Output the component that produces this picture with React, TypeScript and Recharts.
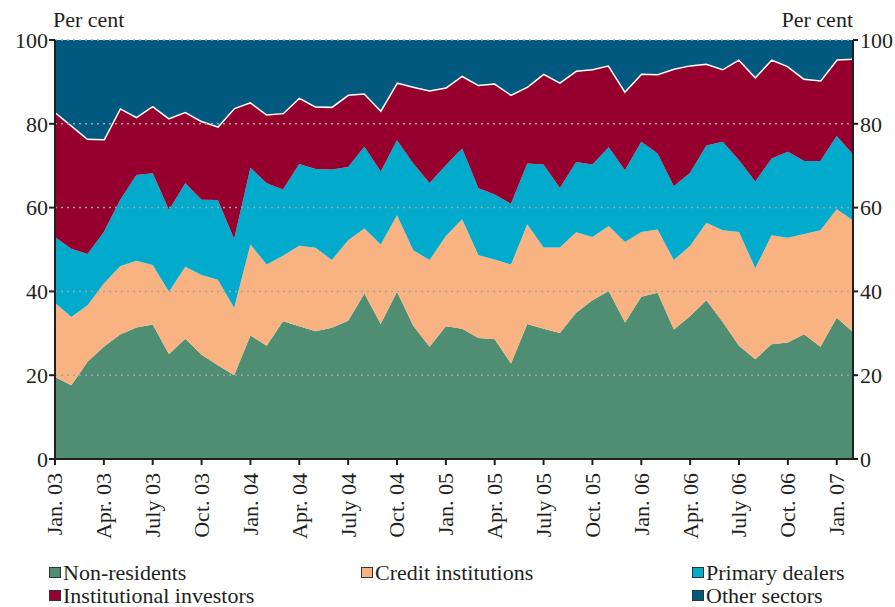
import { ComposedChart, Area, Line, XAxis, YAxis, ReferenceLine } from 'recharts'

const months = [
  'Jan. 03', 'Feb. 03', 'Mar. 03', 'Apr. 03', 'May 03', 'June 03', 'July 03', 'Aug. 03', 'Sep. 03', 'Oct. 03', 'Nov. 03', 'Dec. 03',
  'Jan. 04', 'Feb. 04', 'Mar. 04', 'Apr. 04', 'May 04', 'June 04', 'July 04', 'Aug. 04', 'Sep. 04', 'Oct. 04', 'Nov. 04', 'Dec. 04',
  'Jan. 05', 'Feb. 05', 'Mar. 05', 'Apr. 05', 'May 05', 'June 05', 'July 05', 'Aug. 05', 'Sep. 05', 'Oct. 05', 'Nov. 05', 'Dec. 05',
  'Jan. 06', 'Feb. 06', 'Mar. 06', 'Apr. 06', 'May 06', 'June 06', 'July 06', 'Aug. 06', 'Sep. 06', 'Oct. 06', 'Nov. 06', 'Dec. 06',
  'Jan. 07', 'Feb. 07',
]

// shares, per cent
const nonResidents = [
  19.6, 17.6, 23.2, 26.8, 29.7, 31.4, 32.1, 25.0, 28.7, 24.9,
  22.4, 20.0, 29.5, 27.0, 32.9, 31.7, 30.5, 31.3, 33.0, 39.5,
  32.2, 39.9, 31.8, 26.8, 31.7, 31.1, 28.9, 28.6, 22.8, 32.2,
  31.1, 30.1, 34.9, 37.9, 40.1, 32.6, 38.7, 39.7, 30.9, 34.1,
  37.9, 32.7, 27.0, 23.8, 27.4, 27.8, 29.8, 26.8, 33.7, 30.3,
]
const creditInstitutions = [
  17.7, 16.3, 13.5, 15.1, 16.3, 15.9, 14.2, 14.9, 17.2, 19.0,
  20.4, 16.1, 21.7, 19.4, 15.6, 19.2, 19.9, 16.2, 19.2, 15.5,
  19.0, 18.3, 18.0, 20.7, 21.5, 26.1, 19.7, 19.0, 23.6, 23.8,
  19.4, 20.4, 19.2, 15.1, 15.5, 19.2, 15.5, 15.1, 16.6, 16.8,
  18.5, 21.9, 27.2, 21.7, 26.0, 25.0, 23.9, 27.8, 25.9, 26.7,
]
const primaryDealers = [
  15.7, 16.3, 12.2, 12.3, 15.8, 20.5, 21.9, 19.5, 19.9, 18.0,
  19.0, 16.4, 18.3, 19.4, 15.8, 19.5, 18.8, 21.6, 17.5, 19.5,
  17.4, 17.9, 20.7, 18.4, 16.9, 16.9, 16.0, 15.5, 14.5, 14.5,
  19.8, 14.2, 16.8, 17.3, 18.8, 17.1, 21.5, 18.1, 17.6, 17.4,
  18.4, 21.1, 17.1, 20.7, 18.3, 20.5, 17.4, 16.5, 17.5, 15.7,
]
const institutionalInvestors = [
  29.9, 29.5, 27.6, 22.2, 22.0, 13.9, 16.1, 22.0, 17.1, 18.8,
  17.6, 31.3, 15.7, 16.5, 18.3, 15.9, 15.0, 15.0, 17.3, 12.8,
  14.7, 13.8, 18.4, 22.1, 18.6, 17.4, 24.7, 26.6, 26.1, 18.4,
  21.7, 25.2, 21.8, 22.8, 19.6, 18.9, 16.3, 19.0, 28.1, 25.7,
  19.6, 17.4, 24.1, 25.0, 23.7, 20.5, 19.7, 19.3, 18.3, 22.9,
]
const otherSectors = [
  17.1, 20.3, 23.5, 23.6, 16.2, 18.3, 15.7, 18.6, 17.1, 19.3,
  20.6, 16.2, 14.8, 17.7, 17.4, 13.7, 15.8, 15.9, 13.0, 12.7,
  16.7, 10.1, 11.1, 12.0, 11.3, 8.5, 10.7, 10.3, 13.0, 11.1,
  8.0, 10.1, 7.3, 6.9, 6.0, 12.2, 8.0, 8.1, 6.8, 6.0,
  5.6, 6.9, 4.6, 8.8, 4.6, 6.2, 9.2, 9.6, 4.6, 4.4,
]

const yTicks = [0, 20, 40, 60, 80, 100]

const series = [
  { key: 'nonRes', name: 'Non-residents', color: '#4f8e73' },
  { key: 'credit', name: 'Credit institutions', color: '#f9b382' },
  { key: 'primary', name: 'Primary dealers', color: '#02aacb' },
  { key: 'inst', name: 'Institutional investors', color: '#95002f' },
  { key: 'other', name: 'Other sectors', color: '#02597f' },
]

const data = months.map((m, i) => ({
  month: m,
  nonRes: nonResidents[i],
  credit: creditInstitutions[i],
  primary: primaryDealers[i],
  inst: institutionalInvestors[i],
  other: otherSectors[i],
}))

const FONT = "'Liberation Serif', 'Times New Roman', serif"
const INK = '#231f20'

function MonthTick({ x, y, payload }: any) {
  return (
    <text
      x={x}
      y={y}
      transform={`rotate(-90, ${x}, ${y})`}
      textAnchor="end"
      dy="0.34em"
      fontSize={22}
      fontFamily={FONT}
      fill={INK}
    >
      {payload.value}
    </text>
  )
}

// legend slots: [series index, x, baseline y]
const legendSlots: [number, number, number][] = [
  [0, 49, 580], [1, 361, 580], [2, 692, 580],
  [3, 49, 603], [4, 692, 603],
]

export default function App() {
  return (
    <div style={{ position: 'absolute', left: 0, top: 0, width: 895, height: 607, background: '#fff' }}>
      <ComposedChart width={895} height={607} data={data} margin={{ top: 40, right: 0, bottom: 73, left: 0 }}>
        <XAxis
          dataKey="month"
          interval={2}
          height={75}
          tick={<MonthTick />}
          tickSize={6}
          tickMargin={8}
          axisLine={{ stroke: INK, strokeWidth: 2 }}
          tickLine={{ stroke: INK, strokeWidth: 2 }}
        />
        <YAxis
          yAxisId="left"
          domain={[0, 100]}
          ticks={yTicks}
          width={55}
          tickSize={6}
          tickMargin={1}
          axisLine={{ stroke: INK, strokeWidth: 2 }}
          tickLine={{ stroke: INK, strokeWidth: 2 }}
          tick={{ fontSize: 22, fontFamily: FONT, fill: INK }}
        />
        <YAxis
          yAxisId="right"
          orientation="right"
          domain={[0, 100]}
          ticks={yTicks}
          width={42}
          tickSize={5}
          tickMargin={2}
          axisLine={{ stroke: INK, strokeWidth: 2 }}
          tickLine={{ stroke: INK, strokeWidth: 2 }}
          tick={{ fontSize: 22, fontFamily: FONT, fill: INK }}
        />
        {series.map((s) => (
          <Area
            key={s.key}
            yAxisId="left"
            type="linear"
            dataKey={s.key}
            name={s.name}
            stackId="1"
            fill={s.color}
            fillOpacity={1}
            stroke={s.key === 'inst' ? '#ffffff' : 'none'}
            strokeWidth={s.key === 'inst' ? 3 : 0}
            isAnimationActive={false}
          />
        ))}
        {/* invisible series so the right-hand axis gets its ticks */}
        <Line
          yAxisId="right"
          dataKey="other"
          stroke="none"
          dot={false}
          activeDot={false}
          legendType="none"
          isAnimationActive={false}
        />
        {yTicks.slice(1).map((v) => (
          <ReferenceLine key={v} yAxisId="left" y={v} stroke="#a3a3a3" strokeWidth={1.5} strokeDasharray="2 4" />
        ))}
      </ComposedChart>
      <svg width={895} height={607} style={{ position: 'absolute', left: 0, top: 0, pointerEvents: 'none' }}>
        <text x={53} y={27} fontSize={22} fontFamily={FONT} fill={INK}>Per cent</text>
        <text x={853} y={27} textAnchor="end" fontSize={22} fontFamily={FONT} fill={INK}>Per cent</text>
        {legendSlots.map(([idx, x, y]) => (
          <g key={series[idx].key}>
            <rect x={x + 0.5} y={y - 12.5} width={11} height={10} fill={series[idx].color} stroke="#333" strokeWidth={1} />
            <text x={x + 14} y={y} fontSize={22} fontFamily={FONT} fill={INK}>{series[idx].name}</text>
          </g>
        ))}
      </svg>
    </div>
  )
}
